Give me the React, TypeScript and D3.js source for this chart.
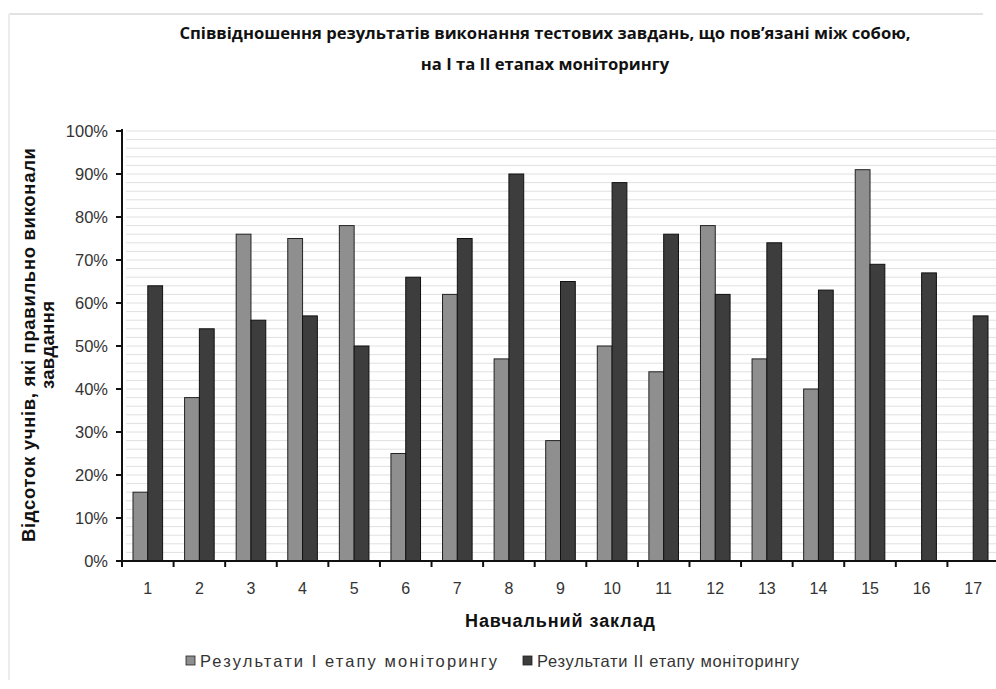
import React from "react";
import * as d3 from "d3";

const categories = ["1","2","3","4","5","6","7","8","9","10","11","12","13","14","15","16","17"];
const stage1: (number | null)[] = [16, 38, 76, 75, 78, 25, 62, 47, 28, 50, 44, 78, 47, 40, 91, null, null];
const stage2: (number | null)[] = [64, 54, 56, 57, 50, 66, 75, 90, 65, 88, 76, 62, 74, 63, 69, 67, 57];
const yTicks = [0, 10, 20, 30, 40, 50, 60, 70, 80, 90, 100];
const seriesNames = ["Результати І етапу моніторингу", "Результати ІІ етапу моніторингу"];
const titleLines = [
  "Співвідношення результатів виконання тестових завдань, що пов’язані між собою,",
  "на І та ІІ етапах моніторингу",
];
const yTitleLines = ["Відсоток учнів, які правильно виконали", "завдання"];
const xTitle = "Навчальний заклад";

const W = 996, H = 689;
const left = 122, right = 999, top = 131, bottom = 561;
const colors = ["#8f8f8f", "#3d3d3d"];

export default function App() {
  const x = d3.scaleBand<string>().domain(categories).range([left, right]).padding(0);
  const y = d3.scaleLinear().domain([0, 100]).range([bottom, top]);
  const bw = 14.8;
  const grid = d3.range(2, 101, 2);
  const axisFont = "'Liberation Sans', Arial, sans-serif";
  return (
    <svg width={W} height={H} style={{ position: "absolute", left: 0, top: 0, background: "#fff" }}>
      <line x1={9} y1={14} x2={983} y2={14} stroke="#e2e2e2" strokeWidth={2} />
      <line x1={9} y1={14} x2={9} y2={680} stroke="#ececec" strokeWidth={2} />
      {/* title */}
      {titleLines.map((t, i) => (
        <text key={i} x={545} y={39 + i * 31} textAnchor="middle" fontFamily="'Open Sans', sans-serif"
          fontWeight="bold" fontSize={16.6} fill="#111">{t}</text>
      ))}
      {/* gridlines */}
      {grid.map((g) => (
        <line key={g} x1={left + 4} x2={W} y1={y(g)} y2={y(g)} stroke="#e0e0e0" strokeWidth={1} />
      ))}
      {/* bars */}
      {categories.map((c, i) => {
        const cx = (x(c) as number) + x.bandwidth() / 2;
        const v1 = stage1[i], v2 = stage2[i];
        return (
          <g key={c}>
            {v1 != null && (
              <rect x={cx - bw} y={y(v1)} width={bw} height={bottom - y(v1)} fill={colors[0]} stroke="#222" strokeWidth={1} />
            )}
            {v2 != null && (
              <rect x={cx} y={y(v2)} width={bw} height={bottom - y(v2)} fill={colors[1]} stroke="#111" strokeWidth={1} />
            )}
          </g>
        );
      })}
      {/* y axis */}
      <line x1={left} x2={left} y1={top - 2} y2={bottom} stroke="#111" strokeWidth={2} />
      {yTicks.map((t) => (
        <g key={t}>
          <line x1={left - 6} x2={left} y1={y(t)} y2={y(t)} stroke="#111" strokeWidth={2} />
          <text x={108} y={y(t) + 6} textAnchor="end" fontFamily={axisFont} fontSize={16.5} fill="#333">{t}%</text>
        </g>
      ))}
      {/* x axis */}
      <line x1={left - 6} x2={W} y1={bottom} y2={bottom} stroke="#111" strokeWidth={2} />
      {categories.map((c, i) => (
        <g key={c}>
          <line x1={x(c) as number} x2={x(c) as number} y1={bottom} y2={bottom + 6} stroke="#111" strokeWidth={2} />
          <text x={(x(c) as number) + x.bandwidth() / 2} y={594} textAnchor="middle" fontFamily={axisFont} fontSize={16} fill="#333">{c}</text>
        </g>
      ))}
      {/* axis titles */}
      <text x={560} y={627} textAnchor="middle" fontFamily={axisFont} fontWeight="bold" fontSize={18} textLength={190} lengthAdjust="spacing" fill="#111">{xTitle}</text>
      {yTitleLines.map((t, i) => (
        <text key={i} transform={`translate(${35 + i * 19},345) rotate(-90)`} textAnchor="middle"
          fontFamily={axisFont} fontWeight="bold" fontSize={18.5} textLength={i === 0 ? 394 : 88} lengthAdjust="spacing" fill="#111">{t}</text>
      ))}
      {/* legend */}
      {seriesNames.map((s, i) => {
        const lx = [186, 523][i];
        return (
          <g key={s}>
            <rect x={lx} y={656} width={9} height={9} fill={colors[i]} stroke="#222" strokeWidth={0.8} />
            <text x={lx + 14} y={667} fontFamily={axisFont} fontSize={16.5} textLength={i === 0 ? 297 : 262} lengthAdjust="spacing" fill="#333">{s}</text>
          </g>
        );
      })}
    </svg>
  );
}
